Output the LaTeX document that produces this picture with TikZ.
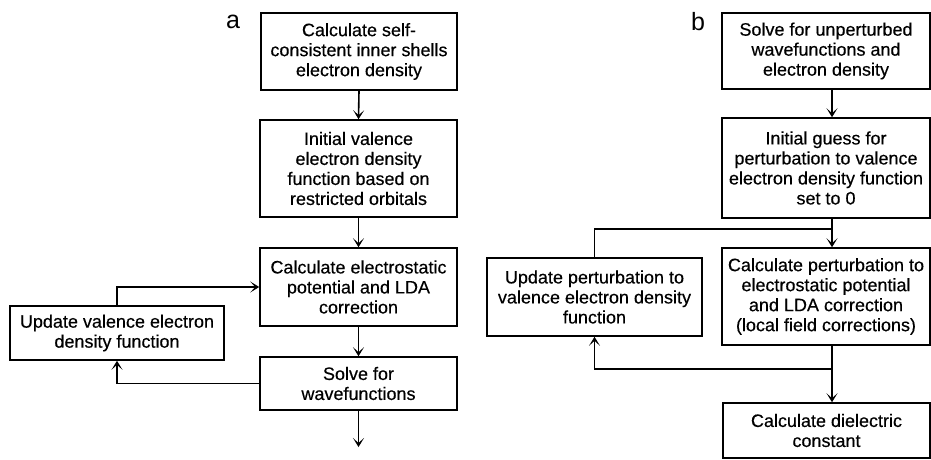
\documentclass[tikz,border=0pt]{standalone}
\usepackage{fontspec}
\setmainfont{Liberation Sans}
\newfontfamily\boxfont{Liberation Sans}[FakeBold=0.4]
\usetikzlibrary{arrows.meta}
\tikzset{
  box/.style={draw, line width=1.6pt, align=center, inner sep=0pt,
    font=\boxfont\fontsize{18}{20}\selectfont},
  arr/.style={line width=1.6pt, -{Stealth[length=9pt,width=11pt,inset=5pt]}},
  conn/.style={line width=1.6pt},
  panel/.style={font=\fontsize{25}{28}\selectfont, inner sep=0pt}
}
\begin{document}
\begin{tikzpicture}[x=1pt,y=-1pt]
\useasboundingbox (0,0) rectangle (931,459);
% panel a
\node[panel] (la) at (233,22) {a};
\node[box, minimum width=196pt, minimum height=77pt] (A1) at (359,51.5) {Calculate self-\\consistent inner shells\\electron density};
\node[box, minimum width=197pt, minimum height=97pt] (A2) at (358.5,168.5) {Initial valence\\electron density\\function based on\\restricted orbitals};
\node[box, minimum width=197pt, minimum height=78pt] (A3) at (358.5,287) {Calculate electrostatic\\potential and LDA\\correction};
\node[box, minimum width=197pt, minimum height=53pt] (A4) at (358.5,383.5) {Solve for\\wavefunctions};
\node[box, minimum width=214pt, minimum height=54pt] (AU) at (117,333) {Update valence electron\\density function};
\coordinate (aend) at (358.5,447);
\draw[arr] (A1.south) -- (A2.north);
\draw[arr] (A2.south) -- (A3.north);
\draw[arr] (A3.south) -- (A4.north);
\draw[arr] (A4.south) -- (aend);
\draw[arr] (AU.north) |- (A3.west);
\draw[arr] (A4.west) -| (AU.south);
% panel b
\node[panel] (lb) at (698,22) {b};
\coordinate (xb) at (832,0);
\node[box, minimum width=208pt, minimum height=76pt] (B1) at (826,51) {Solve for unperturbed\\wavefunctions and\\electron density};
\node[box, minimum width=208pt, minimum height=100pt] (B2) at (826,168) {Initial guess for\\perturbation to valence\\electron density function\\set to 0};
\node[box, minimum width=208pt, minimum height=97pt] (B3) at (826,296.5) {Calculate perturbation to\\electrostatic potential\\and LDA correction\\(local field corrections)};
\node[box, minimum width=215pt, minimum height=78pt] (B4) at (594.5,297) {Update perturbation to\\valence electron density\\function};
\node[box, minimum width=207pt, minimum height=55pt] (B5) at (826.5,430.5) {Calculate dielectric\\constant};
\coordinate (jb) at (832,229);
\coordinate (kb) at (832,369);
\draw[arr] (B1.south -| xb) -- (B2.north -| xb);
\draw[arr] (B2.south -| xb) -- (B3.north -| xb);
\draw[conn] (B4.north) |- (jb);
\draw[arr] (B3.south -| xb) -- (B5.north -| xb);
\draw[arr] (kb) -| (B4.south);
\end{tikzpicture}
\end{document}
